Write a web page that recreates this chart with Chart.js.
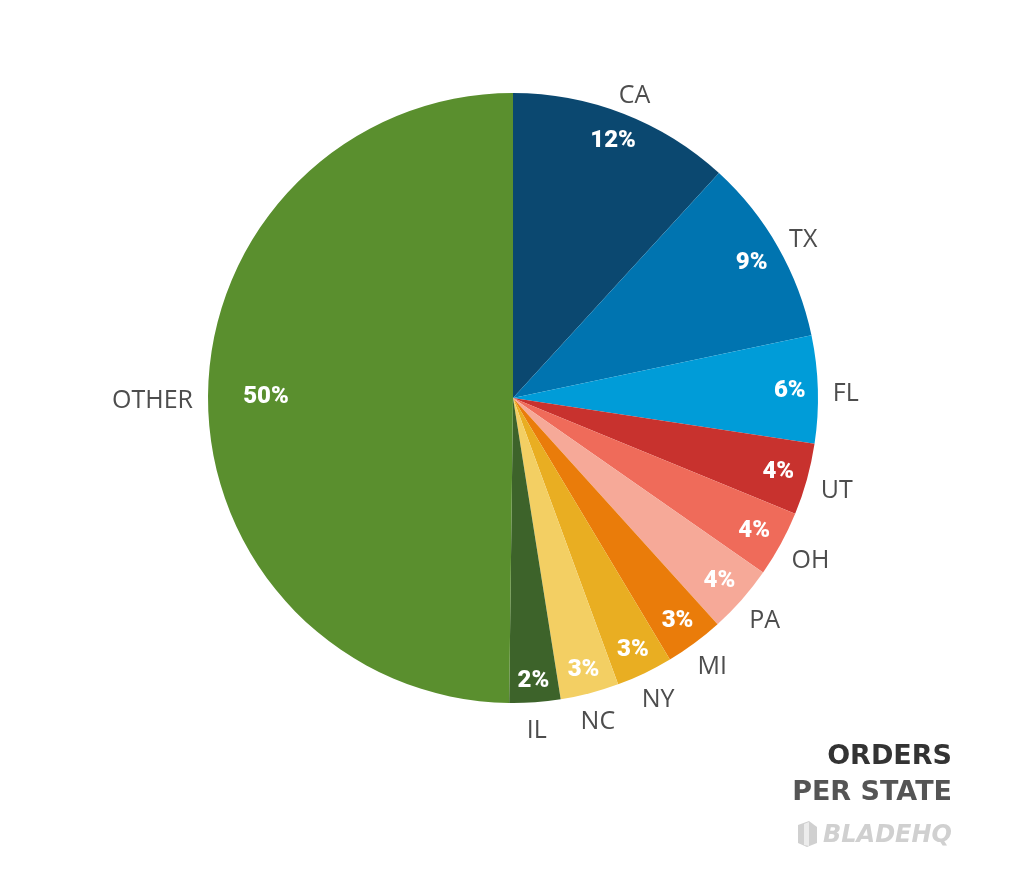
<!DOCTYPE html>
<html>
<head>
<meta charset="utf-8">
<title>Orders per state</title>
<script src="https://cdn.jsdelivr.net/npm/chart.js@4/dist/chart.umd.min.js"></script>
<style>
    html, body {
        margin: 0;
        padding: 0;
        background: #ffffff;
    }
    #wrap {
        position: relative;
        width: 1024px;
        height: 886px;
    }
    #grafico {
        position: absolute;
        left: 0;
        top: 0;
    }
    .titulo {
        position: absolute;
        right: 72px;
        font-family: "DejaVu Sans", sans-serif;
        font-weight: bold;
        font-size: 27px;
        line-height: 1;
        text-align: right;
    }
    #t1 { top: 741px; color: #333333; }
    #t2 { top: 777px; color: #555555; }
    #logo {
        position: absolute;
        right: 72px;
        top: 820px;
        display: flex;
        align-items: center;
        gap: 4px;
    }
    #logo span {
        font-family: "DejaVu Sans", sans-serif;
        font-weight: bold;
        font-style: italic;
        font-size: 24px;
        color: #d0d0d0;
    }
</style>
</head>
<body>
<div id="wrap">
    <canvas id="grafico" width="1024" height="886"></canvas>
    <div class="titulo" id="t1">ORDERS</div>
    <div class="titulo" id="t2">PER STATE</div>
    <div id="logo">
        <svg width="24" height="26" viewBox="0 0 24 26">
            <polygon points="3,4 14,0 22,6 22,22 12,26 3,22" fill="#d0d0d0"/>
            <polygon points="9,3 14,1 14,25 9,24" fill="#ffffff" opacity="0.6"/>
        </svg>
        <span>BLADEHQ</span>
    </div>
</div>
<script>
// Dados do gráfico (sentido horário a partir do topo)
const states = ["CA", "TX", "FL", "UT", "OH", "PA", "MI", "NY", "NC", "IL", "OTHER"];
const shares = [11.8, 9.9, 5.7, 3.8, 3.5, 3.6, 3.1, 3.0, 3.1, 2.7, 49.8];
const shareLabels = ["12%", "9%", "6%", "4%", "4%", "4%", "3%", "3%", "3%", "2%", "50%"];
const colors = [
    "#0b4870", "#0074b0", "#009cd8", "#c8322e", "#ef6b5a", "#f6a998",
    "#ea7c0a", "#e9ae22", "#f3cf63", "#3d632a", "#5a8f2e",
];

// Plugin para escrever os rótulos dentro e fora das fatias
const labelPlugin = {
    id: "labelPlugin",
    afterDatasetsDraw(chart) {
        const ctx = chart.ctx;
        const meta = chart.getDatasetMeta(0);
        const maxShare = Math.max(...shares);
        meta.data.forEach((arc, i) => {
            const p = arc.getProps(["x", "y", "startAngle", "endAngle", "outerRadius"], true);
            const mid = (p.startAngle + p.endAngle) / 2;
            const cos = Math.cos(mid);
            const sin = Math.sin(mid);

            // percentagem (branco, negrito)
            ctx.save();
            ctx.fillStyle = "#ffffff";
            ctx.font = "900 24px Roboto, sans-serif";
            ctx.textAlign = "center";
            ctx.textBaseline = "middle";
            const pw = ctx.measureText(shareLabels[i]).width;
            let rIn;
            if (shares[i] === maxShare) {
                rIn = p.outerRadius * 0.81;
            } else {
                rIn = p.outerRadius - 12 - (Math.abs(cos) * pw / 2 + Math.abs(sin) * 9);
            }
            ctx.fillText(shareLabels[i], p.x + cos * rIn, p.y + sin * rIn + 1);
            ctx.restore();

            // nome do estado (cinza, fora da pizza)
            ctx.save();
            ctx.font = "400 25px 'Open Sans', sans-serif";
            const w = ctx.measureText(states[i]).width;
            const h = 18;
            const rOut = p.outerRadius + 15;
            const ax = p.x + cos * rOut;
            const ay = p.y + sin * rOut;
            ctx.fillStyle = "#4d4d4d";
            ctx.textAlign = "center";
            ctx.textBaseline = "middle";
            ctx.fillText(states[i], ax + cos * w / 2, ay + sin * h / 2 + 5);
            ctx.restore();
        });
    },
};

new Chart(document.getElementById("grafico"), {
    type: "pie",
    data: {
        labels: states,
        datasets: [
            {
                data: shares,
                backgroundColor: colors,
                borderWidth: 0,
            },
        ],
    },
    options: {
        responsive: false,
        animation: false,
        layout: {
            padding: { top: 93, bottom: 183, left: 208, right: 206 },
        },
        plugins: {
            legend: { display: false },
            tooltip: { enabled: false },
        },
    },
    plugins: [labelPlugin],
});
</script>
</body>
</html>
